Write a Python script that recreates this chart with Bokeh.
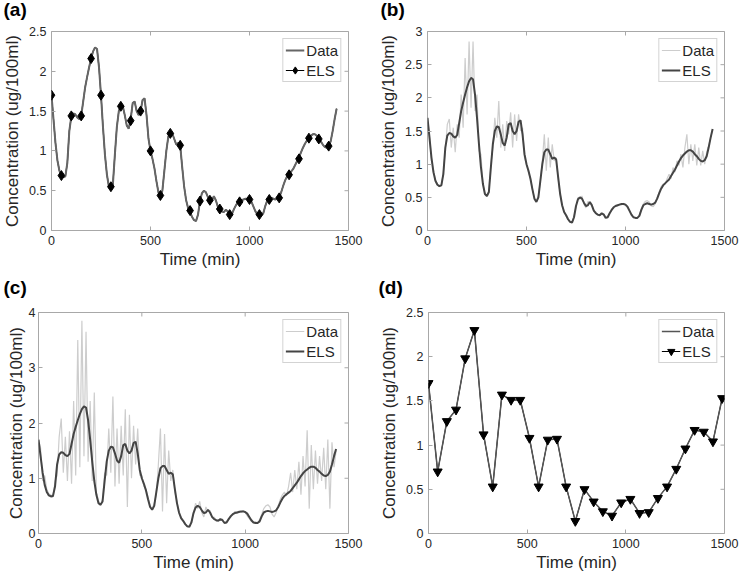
import math
from bokeh.plotting import figure
from bokeh.layouts import row, column
from bokeh.models import FixedTicker, Legend, LegendItem, Label, NumeralTickFormatter
from bokeh.embed import file_html
from bokeh.resources import INLINE

# ---------------- data ----------------
t_fine = list(range(0, 1441, 10))

els_smooth = [
    1.70, 1.40, 1.10, 0.88, 0.75, 0.69, 0.67, 0.68, 0.85, 1.25,
    1.43, 1.47, 1.46, 1.42, 1.40, 1.44, 1.62, 1.80, 1.93, 2.05,
    2.16, 2.25, 2.30, 2.28, 2.05, 1.70, 1.30, 0.95, 0.70, 0.55,
    0.52, 0.58, 0.95, 1.30, 1.50, 1.57, 1.56, 1.45, 1.32, 1.28,
    1.40, 1.60, 1.62, 1.50, 1.45, 1.50, 1.64, 1.66, 1.45, 1.15,
    1.00, 0.90, 0.78, 0.62, 0.48, 0.43, 0.50, 0.75, 1.00, 1.18,
    1.22, 1.22, 1.15, 1.08, 1.10, 1.07, 0.80, 0.55, 0.38, 0.28,
    0.23, 0.17, 0.13, 0.12, 0.20, 0.37, 0.47, 0.50, 0.48, 0.42,
    0.37, 0.38, 0.43, 0.38, 0.30, 0.26, 0.24, 0.23, 0.26, 0.24,
    0.19, 0.20, 0.26, 0.31, 0.35, 0.37, 0.38, 0.39, 0.40, 0.40,
    0.39, 0.36, 0.30, 0.24, 0.20, 0.19, 0.19, 0.22, 0.31, 0.38,
    0.40, 0.41, 0.40, 0.39, 0.40, 0.42, 0.48, 0.56, 0.63, 0.68,
    0.71, 0.74, 0.77, 0.82, 0.87, 0.92, 0.98, 1.04, 1.09, 1.13,
    1.16, 1.19, 1.21, 1.21, 1.19, 1.15, 1.12, 1.08, 1.05, 1.04,
    1.06, 1.12, 1.25, 1.40, 1.53,
]

data_b = [
    1.70, 1.45, 1.05, 0.92, 0.76, 0.70, 0.66, 0.68, 0.88, 1.20,
    1.60, 1.68, 1.25, 1.55, 1.18, 1.60, 1.40, 2.05, 1.55, 2.60,
    1.75, 2.85, 1.85, 2.85, 1.80, 2.05, 1.20, 1.15, 0.70, 0.56,
    0.51, 0.60, 1.00, 1.25, 1.70, 1.40, 1.95, 1.25, 1.60, 1.20,
    1.65, 1.45, 1.78, 1.25, 1.75, 1.35, 1.75, 1.50, 1.55, 1.10,
    1.00, 0.88, 0.78, 0.62, 0.48, 0.44, 0.52, 0.74, 1.05, 1.45,
    0.90, 1.40, 0.95, 1.30, 1.05, 1.10, 0.78, 0.55, 0.37, 0.29,
    0.22, 0.17, 0.13, 0.13, 0.21, 0.36, 0.50, 0.48, 0.52, 0.40,
    0.34, 0.44, 0.41, 0.40, 0.29, 0.28, 0.23, 0.24, 0.25, 0.25,
    0.20, 0.21, 0.26, 0.32, 0.34, 0.38, 0.37, 0.40, 0.39, 0.41,
    0.38, 0.34, 0.29, 0.23, 0.20, 0.20, 0.19, 0.23, 0.33, 0.40,
    0.44, 0.45, 0.43, 0.37, 0.36, 0.40, 0.49, 0.58, 0.66, 0.70,
    0.70, 0.78, 0.85, 0.78, 0.95, 0.88, 1.05, 0.98, 1.15, 0.95,
    1.25, 1.45, 1.00, 1.30, 1.05, 1.30, 0.98, 1.25, 0.98, 1.20,
    1.00, 1.18, 1.28, 1.40, 1.52,
]

data_c = [
    1.70, 1.55, 0.95, 1.05, 0.80, 0.72, 0.70, 0.66, 0.95, 1.05,
    1.75, 2.08, 1.10, 1.75, 0.95, 1.85, 0.90, 2.40, 1.05, 3.50,
    1.20, 3.85, 1.40, 3.65, 1.30, 2.40, 0.95, 2.55, 0.75, 0.60,
    0.50, 0.62, 1.10, 1.05, 1.90, 1.10, 2.48, 0.85, 1.90, 0.90,
    1.95, 1.05, 2.25, 0.48, 2.15, 1.00, 1.95, 1.25, 1.90, 1.05,
    1.05, 0.85, 0.80, 0.66, 0.50, 0.45, 0.55, 0.70, 1.25, 1.90,
    0.40, 1.80, 0.55, 1.50, 0.95, 1.15, 0.75, 0.58, 0.36, 0.30,
    0.22, 0.18, 0.12, 0.14, 0.22, 0.35, 0.55, 0.45, 0.58, 0.38,
    0.30, 0.48, 0.40, 0.42, 0.28, 0.30, 0.22, 0.25, 0.24, 0.26,
    0.20, 0.22, 0.25, 0.33, 0.33, 0.40, 0.36, 0.41, 0.38, 0.42,
    0.38, 0.32, 0.27, 0.22, 0.20, 0.21, 0.19, 0.25, 0.35, 0.45,
    0.50, 0.52, 0.48, 0.35, 0.30, 0.38, 0.50, 0.62, 0.70, 0.75,
    0.68, 0.85, 1.10, 0.75, 1.15, 0.80, 1.30, 0.70, 1.40, 0.85,
    1.87, 0.45, 1.60, 0.80, 1.50, 0.90, 1.40, 0.95, 1.55, 0.80,
    1.70, 0.45, 1.65, 1.20, 1.50,
]

t_els_a = [0, 50, 100, 150, 200, 250, 300, 350, 400, 450, 500, 550, 600, 650, 700,
           750, 800, 850, 900, 950, 1000, 1050, 1100, 1150, 1200, 1250, 1300, 1350, 1400]
els_a = [1.70, 0.69, 1.44, 1.44, 2.16, 1.70, 0.55, 1.56, 1.38, 1.50, 1.00, 0.44, 1.22, 1.07, 0.25,
         0.37, 0.38, 0.27, 0.20, 0.36, 0.39, 0.20, 0.39, 0.41, 0.70, 0.90, 1.16, 1.15, 1.06]

t_d = [0, 46.5, 93, 139.5, 186, 232.5, 279, 325.5, 372, 418.5, 465, 511.5, 558, 604.5, 651,
       697.5, 744, 790.5, 837, 883.5, 930, 976.5, 1023, 1069.5, 1116, 1162.5, 1209, 1255.5,
       1302, 1348.5, 1395, 1441.5, 1488]
els_d = [1.70, 0.70, 1.27, 1.40, 1.98, 2.30, 1.12, 0.53, 1.57, 1.51, 1.51, 1.08, 0.53, 1.06, 1.07,
         0.53, 0.14, 0.50, 0.36, 0.25, 0.20, 0.35, 0.39, 0.23, 0.24, 0.40, 0.53, 0.73, 0.96,
         1.17, 1.15, 1.04, 1.53]

x_ticks = [0, 500, 1000, 1500]
y_ticks_25 = [0, 0.5, 1, 1.5, 2, 2.5]
y_ticks_3 = [0, 0.5, 1, 1.5, 2, 2.5, 3]
y_ticks_4 = [0, 1, 2, 3, 4]

FONT = "Liberation Sans"
TXT = "#262626"
BOX = "#a8a8a8"
XMAX = 1500


def make_fig(w, h, ymax, yticks, bl, br, bt, bb, label, lx, ly,
             ylab_standoff=4, ytick_standoff=5):
    p = figure(width=w, height=h, x_range=(0, XMAX), y_range=(0, ymax),
               min_border_left=bl, min_border_right=br, min_border_top=bt, min_border_bottom=bb,
               toolbar_location=None, output_backend="svg",
               background_fill_color="white", border_fill_color="white",
               outline_line_color=BOX, outline_line_width=1)
    p.grid.visible = False
    for ax, ticks in ((p.xaxis[0], x_ticks), (p.yaxis[0], yticks)):
        ax.ticker = FixedTicker(ticks=ticks)
        ax.formatter = NumeralTickFormatter(format="0.[0]")
        ax.axis_line_color = None
        ax.major_tick_in = 4
        ax.major_tick_out = 0
        ax.major_tick_line_color = BOX
        ax.minor_tick_line_color = None
        ax.major_label_text_font = FONT
        ax.major_label_text_font_size = "12.5px"
        ax.major_label_text_color = TXT
        ax.axis_label_text_font = FONT
        ax.axis_label_text_font_size = "17px"
        ax.axis_label_text_font_style = "normal"
        ax.axis_label_text_color = TXT
    p.xaxis[0].axis_label = "Time (min)"
    p.xaxis[0].major_label_standoff = 5
    p.xaxis[0].axis_label_standoff = 2
    p.yaxis[0].axis_label = "Concentration (ug/100ml)"
    p.yaxis[0].major_label_standoff = ytick_standoff
    p.yaxis[0].axis_label_standoff = ylab_standoff
    # inner ticks on the top and right edges of the box (half outside is clipped by the frame)
    p.scatter(x_ticks, [ymax] * len(x_ticks), marker="dash", angle=math.pi / 2, size=8,
              line_color=BOX, line_width=1)
    p.scatter([XMAX] * len(yticks), yticks, marker="dash", size=8,
              line_color=BOX, line_width=1)
    p.add_layout(Label(x=lx, y=ly, x_units="canvas", y_units="canvas", text=label,
                       text_font=FONT, text_font_size="19px", text_font_style="bold",
                       text_color="black", text_baseline="top", text_align="left"), "above")
    return p


def make_legend(p, items):
    lg = Legend(items=items, location="top_right", margin=7, padding=2, spacing=2,
                glyph_width=19, glyph_height=18, label_height=18, label_standoff=2,
                label_text_font=FONT, label_text_font_size="15px", label_text_color=TXT,
                border_line_color=BOX, border_line_width=1, background_fill_color="white",
                background_fill_alpha=1.0)
    p.add_layout(lg)


# (a)
pa = make_fig(375, 278, 2.5, y_ticks_25, 51, 27, 31, 48, "(a)", 3, -2)
ra_line = pa.line(t_fine, els_smooth, line_color="black", line_width=1.2)
ra_data = pa.line(t_fine, els_smooth, line_color="#666666", line_width=2)
ra_pts = pa.scatter(t_els_a, els_a, marker="diamond", size=10, fill_color="black", line_color="black")
make_legend(pa, [LegendItem(label="Data", renderers=[ra_data]),
                 LegendItem(label="ELS", renderers=[ra_line, ra_pts])])

# (b)
pb = make_fig(375, 278, 3, y_ticks_3, 52, 26, 31, 48, "(b)", 5, -2)
rb_data = pb.line(t_fine, data_b, line_color="#cdcdcd", line_width=1.2)
rb_els = pb.line(t_fine, els_smooth, line_color="#444444", line_width=2)
make_legend(pb, [LegendItem(label="Data", renderers=[rb_data]),
                 LegendItem(label="ELS", renderers=[rb_els])])

# (c)
pc = make_fig(375, 301, 4, y_ticks_4, 38, 27, 34, 46, "(c)", 3, -2, ylab_standoff=0, ytick_standoff=3)
rc_data = pc.line(t_fine, data_c, line_color="#cdcdcd", line_width=1.2)
rc_els = pc.line(t_fine, els_smooth, line_color="#444444", line_width=2)
make_legend(pc, [LegendItem(label="Data", renderers=[rc_data]),
                 LegendItem(label="ELS", renderers=[rc_els])])

# (d)
pd_ = make_fig(375, 301, 2.5, y_ticks_25, 53, 26, 34, 46, "(d)", 3, -2)
rd_line = pd_.line(t_d, els_d, line_color="black", line_width=1)
rd_data = pd_.line(t_d, els_d, line_color="#555555", line_width=1.5)
rd_pts = pd_.scatter(t_d, els_d, marker="inverted_triangle", size=9, fill_color="black", line_color="black")
make_legend(pd_, [LegendItem(label="Data", renderers=[rd_data]),
                  LegendItem(label="ELS", renderers=[rd_line, rd_pts])])

layout = column(row(pa, pb, spacing=0), row(pc, pd_, spacing=0), spacing=0)

with open("out.html", "w") as f:
    f.write(file_html(layout, INLINE))
